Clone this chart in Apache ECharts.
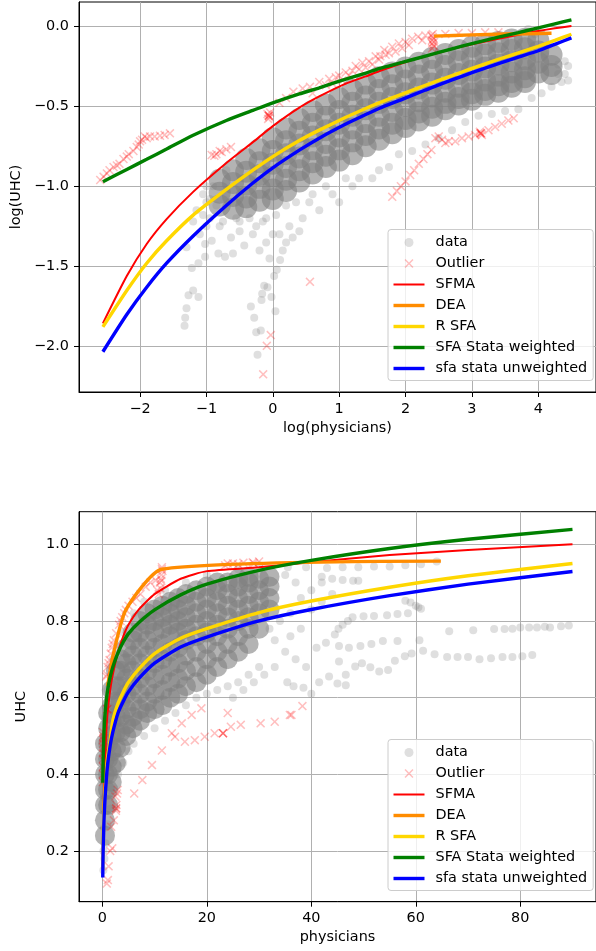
<!DOCTYPE html>
<html><head><meta charset="utf-8">
<script src="https://cdn.jsdelivr.net/npm/echarts@6/dist/echarts.min.js"></script>
<style>html,body{margin:0;padding:0;background:#fff}#c{width:596px;height:951px}</style>
</head><body><div id="c"></div>
<script>
// ---------- tick values ----------
const topXTicks = [-2,-1,0,1,2,3,4];
const topYTicks = [-2,-1.5,-1,-0.5,0];
const botXTicks = [0,20,40,60,80];
const botYTicks = [0.2,0.4,0.6,0.8,1.0];

// ---------- top panel curves (log space) ----------
const topX   = [-2.56,-2.2,-1.9,-1.6,-1.2,-0.7,-0.3,0,0.4,0.7,1.1,1.4,1.6,1.95,2.3,2.7,3.0,3.4,3.7,4.0,4.25,4.5];
const topSFMA  = [-1.855,-1.56,-1.36,-1.205,-1.035,-0.855,-0.725,-0.625,-0.51,-0.44,-0.36,-0.315,-0.283,-0.233,-0.19,-0.145,-0.115,-0.08,-0.055,-0.032,-0.015,0.0];
const topGreen = [-0.972,-0.895,-0.832,-0.768,-0.682,-0.59,-0.527,-0.48,-0.424,-0.386,-0.332,-0.294,-0.266,-0.228,-0.188,-0.143,-0.11,-0.07,-0.042,-0.012,0.013,0.038];
const topRSFA  = [-1.877,-1.65,-1.48,-1.34,-1.18,-1.02,-0.90,-0.815,-0.715,-0.65,-0.57,-0.515,-0.48,-0.425,-0.37,-0.31,-0.265,-0.208,-0.168,-0.127,-0.09,-0.052];
const topBlue  = [-2.032,-1.80,-1.63,-1.48,-1.31,-1.12,-0.98,-0.885,-0.775,-0.70,-0.612,-0.553,-0.515,-0.458,-0.40,-0.337,-0.292,-0.235,-0.195,-0.155,-0.115,-0.075];
const topDEAx  = [2.43,3.0,3.5,4.2];
const topDEAy  = [-0.064,-0.056,-0.051,-0.046];

// ---------- bottom panel curves ----------
const botX     = [0.077,0.15,0.3,0.5,0.75,1,1.5,2,3,4,5,7,10,15,20,30,40,55,70,90];
const botSFMA  = [0.156,0.257,0.357,0.44,0.51,0.56,0.62,0.66,0.72,0.76,0.79,0.83,0.87,0.91,0.93,0.94,0.953,0.972,0.985,1.0];
const botGreen = [0.378,0.436,0.505,0.555,0.592,0.619,0.654,0.68,0.717,0.745,0.767,0.796,0.829,0.868,0.896,0.932,0.958,0.989,1.013,1.039];
const botRSFA  = [0.153,0.225,0.307,0.361,0.408,0.443,0.49,0.54,0.585,0.615,0.64,0.675,0.715,0.755,0.78,0.822,0.852,0.888,0.918,0.95];
const botBlue  = [0.131,0.2,0.275,0.335,0.385,0.425,0.475,0.51,0.56,0.59,0.615,0.65,0.69,0.732,0.758,0.8,0.83,0.866,0.896,0.929];
const botDEAx  = [1.0,2.0,4.5,11.4,64.8];
const botDEAy  = [0.63,0.707,0.829,0.935,0.956];

// ---------- top panel scatter (dense core columns: [x, [y...]]) ----------
const topCoreCols = [
 [-0.8,[-0.96,-1.04,-1.12]],
 [-0.6,[-0.9,-0.98,-1.06,-1.14]],
 [-0.4,[-0.83,-0.91,-0.99,-1.07,-1.13]],
 [-0.2,[-0.77,-0.85,-0.93,-1.01,-1.09]],
 [0,[-0.7,-0.78,-0.86,-0.94,-1.02,-1.08]],
 [0.2,[-0.64,-0.72,-0.8,-0.88,-0.96,-1.03]],
 [0.4,[-0.58,-0.66,-0.74,-0.82,-0.9,-0.97]],
 [0.6,[-0.53,-0.61,-0.69,-0.77,-0.85,-0.92]],
 [0.8,[-0.49,-0.57,-0.65,-0.73,-0.81,-0.88]],
 [1.0,[-0.45,-0.53,-0.61,-0.69,-0.77,-0.84]],
 [1.2,[-0.4,-0.48,-0.56,-0.64,-0.72,-0.8]],
 [1.4,[-0.36,-0.44,-0.52,-0.6,-0.68,-0.75]],
 [1.6,[-0.32,-0.4,-0.48,-0.56,-0.64,-0.71]],
 [1.8,[-0.29,-0.37,-0.45,-0.53,-0.61,-0.67]],
 [2.0,[-0.26,-0.34,-0.42,-0.5,-0.58,-0.63]],
 [2.2,[-0.23,-0.31,-0.39,-0.47,-0.54,-0.59]],
 [2.4,[-0.2,-0.28,-0.36,-0.44,-0.51,-0.56]],
 [2.6,[-0.175,-0.25,-0.33,-0.41,-0.48,-0.52]],
 [2.8,[-0.15,-0.22,-0.3,-0.38,-0.45,-0.49]],
 [3.0,[-0.13,-0.2,-0.28,-0.36,-0.42,-0.46]],
 [3.2,[-0.115,-0.18,-0.26,-0.34,-0.4,-0.43]],
 [3.4,[-0.1,-0.17,-0.24,-0.31,-0.37,-0.41]],
 [3.6,[-0.085,-0.15,-0.22,-0.29,-0.35,-0.38]],
 [3.8,[-0.08,-0.14,-0.21,-0.27,-0.32,-0.35]],
 [4.0,[-0.09,-0.16,-0.23,-0.29]],
 [4.2,[-0.18,-0.25,-0.3]]
];
const topSparse = [
 [-1.32,-1.82],[-1.3,-1.76],[-1.27,-1.68],[-1.2,-1.65],[-1.12,-1.69],[-1.33,-1.87],
 [-1.22,-1.51],[-1.12,-1.48],[-1.02,-1.36],[-0.92,-1.34],[-0.82,-1.42],[-0.72,-1.44],[-0.63,-1.32],
 [-0.43,-1.37],[-1.02,-1.44],[-1.1,-1.3],[-1.3,-1.38],[-0.55,-1.2],[-0.75,-1.22],[-0.95,-1.2],
 [-1.15,-1.15],[-0.6,-1.42],[-0.5,-1.28],[-0.7,-0.9],[-0.9,-1.0],[-1.05,-1.05],[-0.85,-1.12],
 [-1.0,-1.0],[-1.0,-1.1],[-1.05,-1.18],[-0.95,-1.08],
 [-0.33,-1.75],[-0.28,-1.82],[-0.23,-2.05],[-0.16,-1.67],[-0.17,-1.71],[-0.13,-1.62],[-0.08,-1.63],
 [0.02,-1.56],[0.06,-1.52],[0.11,-1.46],[0.04,-1.78],[-0.02,-1.69],[-0.18,-1.9],[-0.25,-1.91],
 [0.15,-1.4],[0.2,-1.35],[-0.05,-1.45],[0.1,-1.3],[0.3,-1.32],[0.25,-1.25],[0.45,-1.2],[0.4,-1.28],
 [-0.1,-1.35],[-0.2,-1.4],[0.0,-1.3],[-0.3,-1.3],[0.55,-1.1],[0.7,-1.15],[-0.35,-1.2],[-0.15,-1.22],
 [0.9,-1.05],[1.0,-1.1],[1.2,-1.0],[1.3,-0.95],[1.5,-0.95],[1.6,-0.9],[1.75,-0.88],[1.9,-0.8],
 [2.1,-0.78],[2.3,-0.74],[2.5,-0.7],[2.7,-0.65],[2.9,-0.6],[3.1,-0.56],[3.3,-0.55],[3.5,-0.53],
 [3.7,-0.52],[3.9,-0.45],[4.05,-0.42],[4.2,-0.38],[4.35,-0.35],[4.4,-0.3],[4.45,-0.25],[4.4,-0.22],
 [4.3,-0.24],[4.1,-0.18],[4.15,-0.12],[4.1,-0.17],[4.3,-0.3],[4.45,-0.34],[3.95,-0.05],[3.85,-0.02],
 [0.8,-1.0],[1.1,-0.95],[0.6,-1.05],[0.35,-1.1],[-0.1,-1.2],[0.2,-1.12],[-0.5,-1.22],[-0.8,-1.25],
 [-1.2,-1.22],[-1.0,-1.25],[-0.25,-1.25],[0.05,-1.18]
];
const topOutliers = [
 [-2.6,-0.961],[-2.55,-0.94],[-2.5,-0.92],[-2.46,-0.9],[-2.4,-0.88],[-2.35,-0.87],[-2.31,-0.86],
 [-2.25,-0.83],[-2.2,-0.815],[-2.17,-0.8],[-2.1,-0.78],[-2.05,-0.755],[-2.02,-0.74],[-1.97,-0.71],
 [-1.93,-0.69],[-1.85,-0.69],[-1.78,-0.69],[-1.7,-0.685],[-1.63,-0.68],[-1.55,-0.67],[-1.9,-0.7],[-2.0,-0.72],
 [-0.92,-0.805],[-0.85,-0.8],[-0.77,-0.787],[-0.7,-0.77],[-0.63,-0.755],[-0.88,-0.81],[-0.8,-0.78],
 [-0.08,-0.55],[-0.05,-0.57],[-0.06,-0.56],[-0.04,-0.54],[-0.07,-0.58],[-0.06,-0.56],[-0.06,-0.56],
 [0.1,-0.48],[0.2,-0.45],[0.31,-0.41],[0.45,-0.39],[0.56,-0.38],[0.7,-0.35],[0.85,-0.33],[1.0,-0.31],
 [1.1,-0.29],[1.25,-0.25],[1.35,-0.23],[1.45,-0.22],[1.55,-0.19],[1.68,-0.15],[1.8,-0.13],[1.9,-0.11],
 [2.0,-0.1],[2.1,-0.08],[2.19,-0.067],[2.3,-0.06],[2.39,-0.06],[2.4,-0.09],[2.42,-0.12],[2.4,-0.14],
 [2.43,-0.1],[2.41,-0.07],[2.42,-0.08],[2.4,-0.11],[2.43,-0.13],[2.41,-0.05],
 [2.6,-0.05],[2.8,-0.045],[3.0,-0.045],[3.2,-0.04],[3.4,-0.04],
 [1.5,-0.24],[1.2,-0.28],[0.9,-0.36],[1.7,-0.18],[1.95,-0.14],[0.6,-0.42],[0.8,-0.37],[1.05,-0.34],
 [1.3,-0.27],[1.6,-0.21],[1.85,-0.16],[1.4,-0.26],[1.15,-0.31],[0.95,-0.32],[1.75,-0.17],[2.05,-0.12],
 [2.25,-0.09],[1.62,-0.19],
 [1.8,-1.066],[1.87,-1.03],[1.93,-1.0],[2.0,-0.97],[2.07,-0.93],[2.13,-0.9],[2.2,-0.86],[2.27,-0.83],
 [2.33,-0.8],[2.39,-0.774],[2.45,-0.7],[2.55,-0.71],[2.6,-0.73],[2.65,-0.72],[2.75,-0.72],[2.85,-0.7],
 [2.95,-0.69],[3.05,-0.68],[3.13,-0.67],[3.15,-0.68],[3.12,-0.66],[3.14,-0.67],[3.13,-0.67],[3.25,-0.65],[3.35,-0.63],
 [3.45,-0.61],[3.55,-0.59],[3.63,-0.576],[2.5,-0.69],
 [0.56,-1.596],[-0.03,-1.928],[-0.09,-1.995],[-0.145,-2.173]
];

// ---------- bottom panel scatter ----------
const botCoreCols = [
 [0.5,[0.24,0.28,0.32,0.36,0.4,0.44,0.48]],
 [1.1,[0.32,0.36,0.4,0.44,0.48,0.52,0.56]],
 [1.8,[0.38,0.42,0.46,0.5,0.54,0.58,0.62]],
 [2.6,[0.43,0.47,0.51,0.55,0.59,0.63,0.67]],
 [3.5,[0.47,0.51,0.55,0.59,0.63,0.67,0.7]],
 [4.6,[0.5,0.53,0.57,0.61,0.65,0.69,0.73]],
 [5.8,[0.52,0.55,0.59,0.63,0.67,0.71,0.75,0.77]],
 [7.2,[0.54,0.57,0.61,0.65,0.69,0.73,0.77,0.8]],
 [8.6,[0.56,0.59,0.63,0.67,0.71,0.75,0.79,0.82]],
 [10,[0.57,0.61,0.65,0.69,0.73,0.77,0.8,0.83]],
 [11.5,[0.58,0.62,0.66,0.7,0.74,0.78,0.81,0.84]],
 [13,[0.6,0.64,0.68,0.72,0.76,0.79,0.82,0.85]],
 [14.5,[0.61,0.65,0.69,0.73,0.77,0.8,0.83,0.86]],
 [16,[0.63,0.67,0.71,0.75,0.78,0.81,0.84,0.87]],
 [18,[0.64,0.68,0.72,0.76,0.79,0.82,0.85,0.88]],
 [20,[0.66,0.7,0.74,0.77,0.8,0.83,0.86,0.89]],
 [22,[0.68,0.72,0.76,0.79,0.82,0.85,0.88,0.9]],
 [24,[0.7,0.74,0.78,0.81,0.84,0.87,0.9]],
 [26,[0.72,0.76,0.8,0.83,0.86,0.89,0.91]],
 [28,[0.74,0.78,0.81,0.84,0.87,0.9,0.915]],
 [30,[0.78,0.82,0.85,0.88,0.91]],
 [32,[0.83,0.86,0.89,0.915]]
];
const botSparse = [
 [35.5,0.94],[39,0.94],[43,0.938],[46,0.94],[49,0.94],[52,0.942],[55,0.942],[58,0.945],[61,0.948],[64,0.955],
 [46,0.907],[48,0.905],[49,0.905],[44,0.91],[42,0.915],
 [58,0.853],[59,0.848],[60,0.84],[60.5,0.836],[61,0.832],
 [47.9,0.81],[50,0.812],[52,0.813],[54.5,0.815],[56.5,0.818],[58.5,0.82],
 [66.4,0.773],[71,0.776],[75,0.779],[77,0.779],[78.5,0.78],[80,0.783],[81.7,0.783],[83.2,0.783],[84.7,0.785],[85.7,0.783],[87.8,0.786],[89.3,0.788],
 [66,0.706],[68,0.706],[70,0.706],[72.2,0.7],[74.4,0.703],[76.6,0.706],[78.5,0.706],[80.4,0.708],[82.3,0.711],
 [63.6,0.713],[61.4,0.722],[59.2,0.715],[57.9,0.708],[56,0.696],
 [60.7,0.75],[56.5,0.748],[53.7,0.748],[51.5,0.74],
 [49.4,0.735],[47.2,0.73],[45.3,0.735],[42.8,0.743],[41,0.73],
 [54.7,0.672],[53,0.668],[51.3,0.679],[49.7,0.69],[48.4,0.681],[46.6,0.66],
 [47,0.8],[46,0.79],[45.2,0.78],[44.5,0.765],[45.3,0.694],
 [41.5,0.64],[43.4,0.655],[45,0.637],[46.6,0.632],
 [40,0.61],[38.5,0.626],[36.6,0.63],[35.4,0.64],
 [32,0.78],[34,0.8],[36,0.82],[38,0.86],[40,0.88],[42,0.9],[37,0.9],[35,0.92],[33,0.75],[35,0.72],[37,0.7],
 [39,0.68],[33,0.68],[31,0.66],[36,0.76],[38,0.78],[40,0.83],[42,0.85],[44,0.87],
 [0.2,0.15],[0.4,0.18],[0.6,0.22],[1.0,0.27],[1.5,0.31],[2,0.35],[3,0.4],[4,0.43],[5,0.46],[6,0.48],[8,0.5],
 [10,0.52],[12,0.54],[14,0.56],[16,0.58],[18,0.6],[20,0.61],[22,0.62],[24,0.63],[26,0.64],[28,0.66],[30,0.68],
 [25,0.6],[27,0.62],[29,0.64],[0.3,0.5],[0.3,0.42],[0.3,0.34],[0.3,0.26],[0.2,0.2],
 [0.5,0.55],[1,0.62],[2,0.7],[4,0.77],[6,0.82],[8,0.85],[12,0.88],[16,0.9],[20,0.92],[26,0.935],[30,0.945]
];
const botOutliers = [
 [0.08,0.38],[0.09,0.4],[0.1,0.42],[0.11,0.44],[0.12,0.455],[0.14,0.47],[0.16,0.48],[0.18,0.495],[0.2,0.5],[0.15,0.51],[0.12,0.49],
 [0.4,0.45],[0.5,0.46],[0.55,0.47],[0.94,0.57],[0.94,0.57],
 [0.85,0.115],[1.06,0.124],[1.2,0.16],[1.5,0.2],[1.9,0.207],[1.7,0.263],[2.2,0.28],[2.64,0.311],[2.6,0.305],[2.7,0.32],
 [2.5,0.342],[2.94,0.359],[2.8,0.35],[2.64,0.311],
 [6.1,0.35],[7.65,0.385],[9.5,0.424],[11.4,0.462],[13.3,0.507],[15.2,0.533],[17.1,0.555],[18.96,0.572],
 [13.9,0.498],[15.8,0.485],[17.7,0.489],[19.6,0.498],[21.5,0.507],[23.1,0.507],[23.1,0.507],[23.1,0.507],
 [24.6,0.524],[26.5,0.529],[30.3,0.533],[33,0.537],[35.9,0.555],[24,0.56],[36.2,0.555],[38.3,0.578],
 [0.75,0.655],[1.0,0.68],[1.38,0.698],[1.8,0.73],[2.2,0.75],[2.64,0.768],[3.2,0.79],[3.8,0.81],[4.5,0.829],
 [5.0,0.84],[5.77,0.85],[6.5,0.86],[7.3,0.87],[8.3,0.889],[9.2,0.9],[10.2,0.906],[10.5,0.88],[11.0,0.9],
 [11.4,0.94],[11.3,0.92],[11.5,0.93],[11.2,0.91],[10.8,0.87],[11.4,0.935],[11.3,0.905],[11.1,0.885],
 [0.9,0.66],[1.2,0.69],[1.6,0.715],[2.0,0.74],[3.5,0.8],[4.2,0.82],
 [24,0.95],[25,0.95],[27,0.952],[28.8,0.953],[30,0.955],[29,0.95],[26,0.948],[23.5,0.945]
];

// ---------- build ----------
function flattenCols(cols){ const out=[]; cols.forEach(c=>c[1].forEach(y=>out.push([c[0],y]))); return out; }
function zip(xs,ys){ return xs.map((x,i)=>[x,ys[i]]); }

const FONT = 'DejaVu Sans';
const XSYM = 'path://M0,1.2L1.2,0L5,3.8L8.8,0L10,1.2L6.2,5L10,8.8L8.8,10L5,6.2L1.2,10L0,8.8L3.8,5Z';
const GRAY = '#808080';

function fmtSigned(d){ return v => (v<0?'\u2212':'')+Math.abs(v).toFixed(d); }

function axisCommon(ticks, fmt){
  return {
    type:'value',
    axisLine:{show:true, onZero:false, lineStyle:{color:'#000', width:1}},
    axisTick:{show:true, inside:false, length:5, lineStyle:{color:'#000', width:1}, customValues: ticks},
    axisLabel:{show:true, customValues: ticks, formatter: fmt, fontFamily: FONT, fontSize:14.4, color:'#000', margin:10},
    splitLine:{show:true, lineStyle:{color:'#b0b0b0', width:1}},
    nameTextStyle:{fontFamily: FONT, fontSize:14.4, color:'#000'},
    nameLocation:'middle'
  };
}

const LINE_STYLES = {
  'SFMA':['#ff0000',2],
  'DEA':['#ff8c00',3.4],
  'R SFA':['#ffd700',3.4],
  'SFA Stata weighted':['#008000',3.4],
  'sfa stata unweighted':['#0000ff',3.4]
};

function lines(xi, yi, xs, sf, gr, rs, bl, dx, dy){
  const mk=(name,data,z)=>{ const [color,w]=LINE_STYLES[name];
    return {name,type:'line',xAxisIndex:xi,yAxisIndex:yi,data,showSymbol:false,symbol:'none',
    smooth:0.2, lineStyle:{color,width:w}, itemStyle:{color}, z, silent:true, animation:false, clip:true}; };
  return [
    mk('SFMA', zip(xs,sf), 5),
    mk('DEA', zip(dx,dy), 6),
    mk('R SFA', zip(xs,rs), 7),
    mk('SFA Stata weighted', zip(xs,gr), 8),
    mk('sfa stata unweighted', zip(xs,bl), 9)
  ];
}
function scatters(xi, yi, sparse, core, outl, coreSize, coreOp){
  return [
    {name:'data', type:'scatter', xAxisIndex:xi, yAxisIndex:yi, data:sparse, symbol:'circle', symbolSize:8,
     itemStyle:{color:GRAY, opacity:0.25}, z:2, silent:true},
    {name:'data', type:'scatter', xAxisIndex:xi, yAxisIndex:yi, data:core, symbol:'circle', symbolSize:coreSize,
     itemStyle:{color:GRAY, opacity:coreOp}, z:2, silent:true},
    {name:'Outlier', type:'scatter', xAxisIndex:xi, yAxisIndex:yi, data:outl, symbol:XSYM, symbolSize:9,
     itemStyle:{color:'#ff0000', opacity:0.25}, z:3, silent:true}
  ];
}
function legend(left, top){
  const ln = n => { const [c,w]=LINE_STYLES[n];
    return {name:n, icon:'path://M0,0H31V'+w+'H0Z', itemStyle:{color:c, opacity:1, borderWidth:0}}; };
  return {
    orient:'vertical', left, top, itemWidth:31, itemHeight:9, itemGap:7,
    padding:[6,6,5,5.5], backgroundColor:'rgba(255,255,255,0.8)', borderColor:'#cccccc', borderWidth:1, borderRadius:3,
    selectedMode:false,
    textStyle:{fontFamily:FONT, fontSize:14.4, color:'#000', padding:[0,0,0,6]},
    data:[
      {name:'data', icon:'circle', itemStyle:{color:'#808080', opacity:0.25}},
      {name:'Outlier', icon:XSYM, itemStyle:{color:'#ff0000', opacity:0.25}},
      ln('SFMA'), ln('DEA'), ln('R SFA'), ln('SFA Stata weighted'), ln('sfa stata unweighted')
    ]
  };
}

const option = {
  animation:false,
  backgroundColor:'#ffffff',
  grid:[
    {left:79, top:2, width:525.4, height:390, show:true, borderColor:'#000', borderWidth:1, backgroundColor:'transparent'},
    {left:79, top:511.7, width:525.3, height:390, show:true, borderColor:'#000', borderWidth:1, backgroundColor:'transparent'}
  ],
  xAxis:[
    Object.assign(axisCommon(topXTicks, v=> (v<0?'\u2212':'')+Math.abs(v)), {gridIndex:0, min:-2.92, max:4.87, name:'log(physicians)', nameGap:29}),
    Object.assign(axisCommon(botXTicks, v=> String(v)), {gridIndex:1, min:-4.47, max:94.5, name:'physicians', nameGap:29})
  ],
  yAxis:[
    Object.assign(axisCommon(topYTicks, fmtSigned(1)), {gridIndex:0, min:-2.283, max:0.149, name:'log(UHC)', nameGap:51}),
    Object.assign(axisCommon(botYTicks, v=>v.toFixed(1)), {gridIndex:1, min:0.0677, max:1.085, name:'UHC', nameGap:51})
  ],
  legend:[ legend(388, 229.5), legend(388, 739.5) ],
  series:[].concat(
    scatters(0,0, topSparse, flattenCols(topCoreCols), topOutliers, 22, 0.6),
    lines(0,0, topX, topSFMA, topGreen, topRSFA, topBlue, topDEAx, topDEAy),
    scatters(1,1, botSparse, flattenCols(botCoreCols), botOutliers, 20, 0.6),
    lines(1,1, botX, botSFMA, botGreen, botRSFA, botBlue, botDEAx, botDEAy)
  )
};
const chart = echarts.init(document.getElementById('c'), null, {renderer:'canvas'});
chart.setOption(option);
</script>
</body></html>
